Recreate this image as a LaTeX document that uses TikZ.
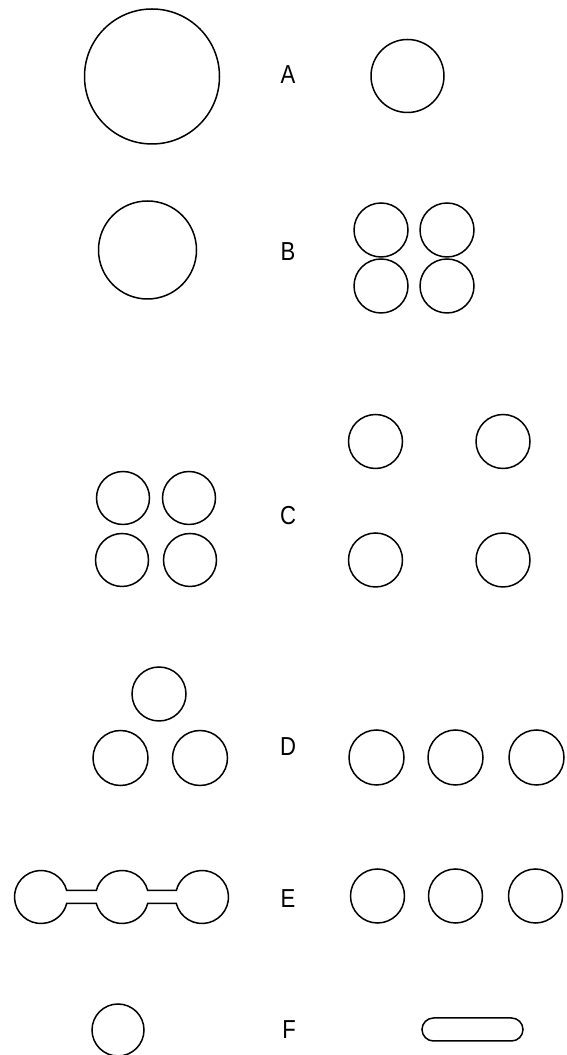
\documentclass[tikz,border=0pt]{standalone}
\usepackage{fontspec}
\setmainfont{Liberation Sans}
\usetikzlibrary{calc,shapes.misc}
\tikzset{
  ring/.style={circle,draw,line width=1.5pt,inner sep=0pt,minimum size=#1},
  lbl/.style={font=\fontsize{26}{26}\selectfont,inner sep=0pt,xscale=0.85},
  outline/.style={line width=1.5pt}
}
\begin{document}
\begin{tikzpicture}[x=1pt,y=1pt]
\useasboundingbox (0,0) rectangle (566,1055);
% Row A
\node[ring=135pt] (a1) at (152,978.5) {};
\node[lbl] (la) at (288,980) {A};
\node[ring=73pt] (a2) at (407.5,979) {};
% Row B
\node[ring=98pt] (b0) at (147.5,805) {};
\node[lbl] (lb) at (288,803) {B};
\node[ring=54pt] (b1) at (381,825) {};
\node[ring=54pt] (b2) at (447,825) {};
\node[ring=54pt] (b3) at (381,769) {};
\node[ring=54pt] (b4) at (447,769) {};
% Row C
\node[ring=53pt] (c1) at (123,557) {};
\node[ring=53pt] (c2) at (189,557) {};
\node[ring=53pt] (c3) at (122,495) {};
\node[ring=53pt] (c4) at (190,495) {};
\node[lbl] (lc) at (288,539) {C};
\node[ring=54pt] (c5) at (375.5,613.5) {};
\node[ring=54pt] (c6) at (503,613.5) {};
\node[ring=54pt] (c7) at (375.5,495) {};
\node[ring=54pt] (c8) at (503,495) {};
% Row D
\node[ring=54pt] (d1) at (159,361) {};
\node[ring=55pt] (d2) at (120.5,297) {};
\node[ring=55pt] (d3) at (200,297) {};
\node[lbl] (ld) at (288,308) {D};
\node[ring=55pt] (d4) at (376.5,297.5) {};
\node[ring=55pt] (d5) at (455.5,297.5) {};
\node[ring=55pt] (d6) at (536.5,297.5) {};
% Row E
\coordinate (e1) at (41,158);
\coordinate (e2) at (122,158);
\coordinate (e3) at (202,158);
\draw[outline] ($(e1)+(14.2:26.5)$) arc[start angle=14.2,end angle=345.8,radius=26.5]
  -- ($(e2)+(194.2:26.5)$) arc[start angle=194.2,end angle=345.8,radius=26.5]
  -- ($(e3)+(194.2:26.5)$) arc[start angle=194.2,end angle=525.8,radius=26.5]
  -- ($(e2)+(14.2:26.5)$) arc[start angle=14.2,end angle=165.8,radius=26.5]
  -- cycle;
\node[lbl] (le) at (288,156) {E};
\node[ring=54pt] (e4) at (377.5,159) {};
\node[ring=54pt] (e5) at (455.5,159) {};
\node[ring=54pt] (e6) at (535.5,159) {};
% Row F
\node[ring=52pt] (f1) at (118,25) {};
\node[lbl] (lf) at (289,25) {F};
\node[rounded rectangle,draw,line width=1.5pt,inner sep=0pt,minimum width=101pt,minimum height=23pt] (f2) at (472.5,25.5) {};
\end{tikzpicture}
\end{document}
